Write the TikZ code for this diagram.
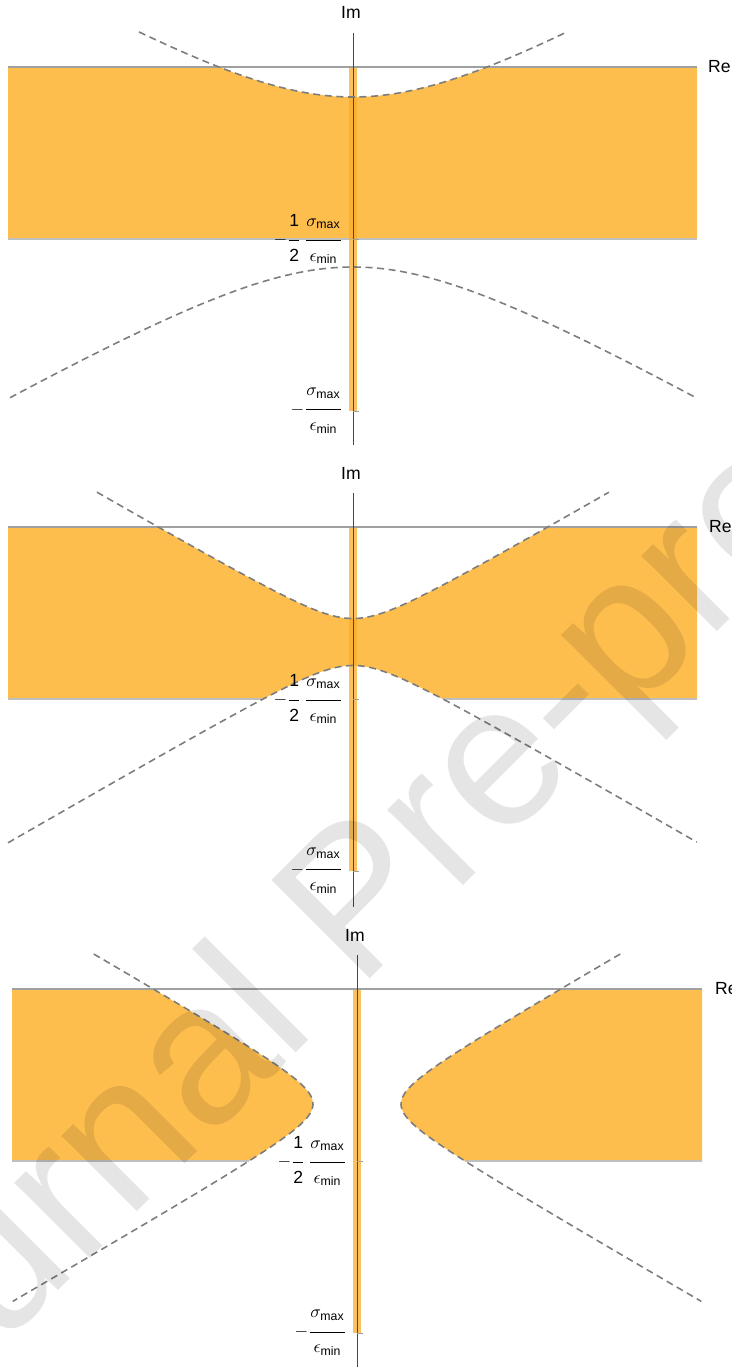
\documentclass[tikz,border=0pt]{standalone}
\usepackage{amsmath}
\usepackage{fontspec}
\setmainfont{Liberation Sans}
\usepackage{tikz}
\usetikzlibrary{positioning}
\definecolor{plotorange}{RGB}{253,190,78}
\definecolor{striporange}{RGB}{250,172,40}
\definecolor{axisgray}{RGB}{160,160,160}
\definecolor{curvegray}{RGB}{125,125,125}
\definecolor{imgray}{RGB}{70,70,70}
\tikzset{
  region/.style={fill=plotorange},
  strip/.style={fill=striporange, fill opacity=0.75},
  curve/.style={curvegray, line width=0.9pt, dash pattern=on 4pt off 2.6pt},
  realaxis/.style={axisgray, line width=0.6pt},
  imaxis/.style={imgray, line width=0.5pt},
  bottomedge/.style={black!25, line width=0.6pt},
  tickmark/.style={axisgray, line width=0.5pt},
  axislabel/.style={font=\fontsize{10}{12}\selectfont, inner sep=1pt},
  ticklabel/.style={font=\fontsize{10}{12}\selectfont, inner sep=0pt, anchor=east},
  watermark/.style={rotate=45, text=black, text opacity=0.1,
    font=\fontsize{115}{115}\selectfont, inner sep=0pt}
}
\newcommand{\ratiolabel}[2]{\dfrac{#1\rule[-6.5pt]{0pt}{6.5pt}}{\rule{0pt}{10.5pt}#2}}
\newcommand{\smax}{\sigma_{\text{max}}}
\newcommand{\emin}{\epsilon_{\text{min}}}

\begin{document}
\begin{tikzpicture}[x=2cm, y=-2cm]
  \useasboundingbox (0,0) rectangle (7.32,13.67);
  \clip (0,0) rectangle (7.32,13.67);

  % Top panel: branches open up and down
  \begin{scope}[shift={(3.53,1.82)}]
    \begin{scope}
      \clip (-3.45,-1.15) rectangle (3.44,0.57);
      \path[clip] plot[domain=-3.6:3.6, samples=121] (\x,{-sqrt(0.7225+(0.578*\x)^2)})
        -- plot[domain=3.6:-3.6, samples=121] (\x,{sqrt(0.7225+(0.578*\x)^2)}) -- cycle;
      \fill[region] (-3.6,-1.2) rectangle (3.6,0.6);
      \draw[bottomedge] (-3.45,0.57) -- (3.44,0.57);
    \end{scope}
    \fill[strip] (-0.04,-1.15) rectangle (0.04,2.29);
    \draw[realaxis] (-3.45,-1.15) -- (3.44,-1.15);
    \draw[imaxis] (0,-1.49) -- (0,2.63);
    \draw[tickmark] (0,0.57) -- (0.06,0.57);
    \draw[tickmark] (0,2.29) -- (0.06,2.29);
    \draw[curve] plot[domain=-2.14:2.14, samples=81, smooth] (\x,{-sqrt(0.7225+(0.578*\x)^2)});
    \draw[curve] plot[domain=-3.43:3.44, samples=101, smooth] (\x,{sqrt(0.7225+(0.578*\x)^2)});
    \node[axislabel] (im1) at (-0.02,-1.70) {Im};
    \node[axislabel, anchor=west] (re1) at (3.53,-1.15) {Re};
    \node[ticklabel] (half1) at (-0.10,0.57) {$-\ratiolabel{\text{1}}{\text{2}}\,\ratiolabel{\smax}{\emin}$};
    \node[ticklabel] (full1) at (-0.10,2.29) {$-\ratiolabel{\smax}{\emin}$};
  \end{scope}

  % Middle panel: narrow neck
  \begin{scope}[shift={(3.53,6.42)}]
    \begin{scope}
      \clip (-3.45,-1.15) rectangle (3.44,0.57);
      \path[clip] plot[domain=-3.6:3.6, samples=121] (\x,{-sqrt(0.0552+(0.578*\x)^2)})
        -- plot[domain=3.6:-3.6, samples=121] (\x,{sqrt(0.0552+(0.578*\x)^2)}) -- cycle;
      \fill[region] (-3.6,-1.2) rectangle (3.6,0.6);
      \draw[bottomedge] (-3.45,0.57) -- (3.44,0.57);
    \end{scope}
    \fill[strip] (-0.04,-1.15) rectangle (0.04,2.29);
    \draw[realaxis] (-3.45,-1.15) -- (3.44,-1.15);
    \draw[imaxis] (0,-1.49) -- (0,2.65);
    \draw[tickmark] (0,0.57) -- (0.06,0.57);
    \draw[tickmark] (0,2.29) -- (0.06,2.29);
    \draw[curve] plot[domain=-2.56:2.56, samples=101, smooth] (\x,{-sqrt(0.0552+(0.578*\x)^2)});
    \draw[curve] plot[domain=-3.45:3.44, samples=121, smooth] (\x,{sqrt(0.0552+(0.578*\x)^2)});
    \node[axislabel] (im2) at (-0.02,-1.69) {Im};
    \node[axislabel, anchor=west] (re2) at (3.54,-1.15) {Re};
    \node[ticklabel] (half2) at (-0.10,0.57) {$-\ratiolabel{\text{1}}{\text{2}}\,\ratiolabel{\smax}{\emin}$};
    \node[ticklabel] (full2) at (-0.10,2.29) {$-\ratiolabel{\smax}{\emin}$};
  \end{scope}

  % Bottom panel: branches open left and right
  \begin{scope}[shift={(3.57,11.04)}]
    \begin{scope}
      \clip (-3.45,-1.15) rectangle (3.45,0.57);
      \fill[region] plot[variable=\t, domain=-2.2:2.2, samples=121] ({-sqrt(\t*\t+0.0647)/0.578},\t)
        -- (-3.6,2.2) -- (-3.6,-2.2) -- cycle;
      \fill[region] plot[variable=\t, domain=-2.2:2.2, samples=121] ({sqrt(\t*\t+0.0647)/0.578},\t)
        -- (3.6,2.2) -- (3.6,-2.2) -- cycle;
      \draw[bottomedge] (-3.45,0.57) -- ({-sqrt(0.57*0.57+0.0647)/0.578},0.57);
      \draw[bottomedge] ({sqrt(0.57*0.57+0.0647)/0.578},0.57) -- (3.45,0.57);
    \end{scope}
    \fill[strip] (-0.04,-1.15) rectangle (0.04,2.29);
    \draw[realaxis] (-3.45,-1.15) -- (3.45,-1.15);
    \draw[imaxis] (0,-1.49) -- (0,2.63);
    \draw[tickmark] (0,0.57) -- (0.06,0.57);
    \draw[tickmark] (0,2.29) -- (0.06,2.29);
    \draw[curve] plot[variable=\t, domain=-1.50:1.975, samples=121, smooth] ({-sqrt(\t*\t+0.0647)/0.578},\t);
    \draw[curve] plot[variable=\t, domain=-1.50:1.975, samples=121, smooth] ({sqrt(\t*\t+0.0647)/0.578},\t);
    \node[axislabel] (im3) at (-0.02,-1.69) {Im};
    \node[axislabel, anchor=west] (re3) at (3.56,-1.15) {Re};
    \node[ticklabel] (half3) at (-0.10,0.57) {$-\ratiolabel{\text{1}}{\text{2}}\,\ratiolabel{\smax}{\emin}$};
    \node[ticklabel] (full3) at (-0.10,2.29) {$-\ratiolabel{\smax}{\emin}$};
  \end{scope}

  % watermark across the page
  \node[watermark] (wm) at (3.65,9.10) {Journal Pre-proof};
\end{tikzpicture}
\end{document}
